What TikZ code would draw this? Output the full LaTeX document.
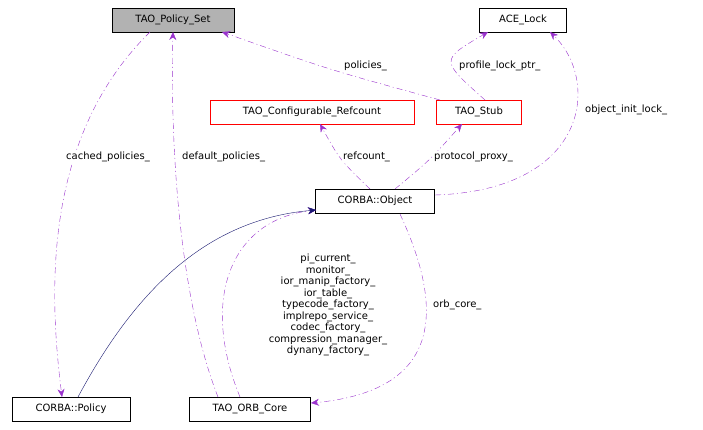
\documentclass[tikz,border=0pt]{standalone}
\usepackage{fontspec}
\setmainfont{DejaVu Sans}
\usetikzlibrary{arrows.meta}
\definecolor{dp}{RGB}{153,50,204}
\definecolor{nv}{RGB}{25,25,112}
\begin{document}
\begin{tikzpicture}[x=1pt,y=-1pt,font=\fontsize{10}{11.5}\selectfont,
  box/.style={draw=black,fill=white,minimum height=24,inner sep=2pt,anchor=center},
  red/.style={box,draw=red},
  dep/.style={-{Stealth[length=8pt,width=7pt]},draw=dp,dash pattern=on 6pt off 3pt on 1pt off 3pt},
  inh/.style={-{Stealth[length=8pt,width=7pt]},draw=nv},
  lab/.style={inner sep=1pt,align=center},
  wl/.style={lab,fill=white,anchor=west}]
\useasboundingbox (0,0) rectangle (703,429);
\node[box,fill=black!30,minimum width=122] (ps) at (173,20) {TAO\_Policy\_Set};
\node[box,minimum width=87] (ace) at (523,20) {ACE\_Lock};
\node[red,minimum width=204] (cr) at (312,112) {TAO\_Configurable\_Refcount};
\node[red,minimum width=85] (stub) at (479,112) {TAO\_Stub};
\node[box,minimum width=119] (obj) at (375,201) {CORBA::Object};
\node[box,minimum width=118] (pol) at (71,409) {CORBA::Policy};
\node[box,minimum width=121] (orb) at (250,409) {TAO\_ORB\_Core};
\draw[dep] (440,100) .. controls (330,70) .. (222,32);
\draw[dep] (485,100) .. controls (440,60) .. (488,32);
\draw[dep] (435,195) .. controls (590,190) and (600,80) .. (550,32);
\draw[dep] (370,189) .. controls (340,160) .. (320,124);
\draw[dep] (395,189) .. controls (430,160) .. (462,124);
\draw[dep] (150,32) .. controls (40,140) and (50,300) .. (62,397);
\draw[dep] (218,397) .. controls (180,300) and (170,150) .. (173,32);
\draw[dep] (240,397) .. controls (200,300) and (230,220) .. (316,210);
\draw[dep] (400,214) .. controls (440,300) and (450,390) .. (311,403);
\draw[inh] (78,397) .. controls (130,300) and (200,220) .. (316,210);
\node[wl] at (343,66) {policies\_};
\node[wl] at (458,66) {profile\_lock\_ptr\_};
\node[wl] at (584,110) {object\_init\_lock\_};
\node[wl] at (342,157) {refcount\_};
\node[wl] at (433,157) {protocol\_proxy\_};
\node[wl] at (65,157) {cached\_policies\_};
\node[wl] at (181,157) {default\_policies\_};
\node[lab] at (328,305) {pi\_current\_\\monitor\_\\ior\_manip\_factory\_\\ior\_table\_\\typecode\_factory\_\\implrepo\_service\_\\codec\_factory\_\\compression\_manager\_\\dynany\_factory\_};
\node[lab,anchor=west] at (432,305) {orb\_core\_};
\end{tikzpicture}
\end{document}
